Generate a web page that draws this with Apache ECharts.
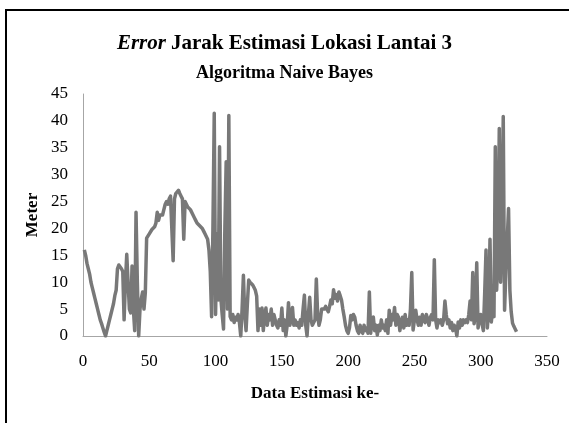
<!DOCTYPE html>
<html>
<head>
<meta charset="utf-8">
<script src="https://cdn.jsdelivr.net/npm/echarts@6/dist/echarts.min.js"></script>
<style>
html,body{margin:0;padding:0;background:#fff;}
#chart{width:569px;height:423px;}
</style>
</head>
<body>
<div id="chart"></div>
<script>
// Error (meter) for each estimation index 1..327
var errors = [
  16, 15, 13.5, 12.5, 11.5, 10, 9, 8, 7, 6,
  5, 4, 3, 2.3, 1.5, 0.7, 0, 1, 2, 3,
  4, 5, 6, 7.5, 8.5, 12.5, 13.2, 13, 12.5, 12,
  3, 10, 15.2, 10, 5, 4.3, 13, 5, 1, 23,
  10, 0, 5, 7, 8.2, 5, 8, 18.2, 18.5, 19,
  19.3, 19.8, 20, 20.3, 21, 23, 21.5, 22.5, 22.8, 22.5,
  23.5, 24.5, 25, 24.5, 25.5, 26, 26.2, 14, 25.5, 26.5,
  26.8, 27.1, 26.5, 26, 25.5, 18, 25, 24.5, 24, 24.2,
  23.5, 23.8, 22.5, 22, 21.5, 21, 21.2, 20.5, 20.8, 20,
  19.5, 19, 18.5, 18, 16, 12, 3.6, 20, 41.4, 4,
  19, 6.7, 35.2, 7, 4, 1.3, 20, 32.4, 5, 41,
  3.6, 3, 4, 2.5, 3.5, 3, 4, 2.5, 0, 5,
  11.3, 4, 1, 6, 10.4, 10, 10, 9.5, 9, 8.5,
  7.4, 1, 5, 2, 5.2, 1, 4, 5.2, 2, 4,
  3, 5, 2, 4, 3, 2, 1.5, 3, 2, 5.2,
  1, 3, 0, 2, 6.2, 2, 3, 5.3, 2, 3,
  2, 2.5, 1.5, 3, 2, 5, 7.6, 2, 0, 4,
  7.2, 3, 2, 2.5, 3, 10.6, 4, 2, 3, 5,
  5.2, 5, 5.5, 5.2, 4.5, 5.5, 6.7, 6, 8.6, 7,
  7.7, 6.5, 8.2, 7.5, 6.7, 5, 3.6, 2, 1, 0.5,
  1.5, 3.8, 3, 4, 3.5, 2, 1, 0.5, 2, 1,
  0.5, 2, 1, 1.5, 0.5, 8.2, 0.5, 3, 3.5, 1,
  2, 0.2, 2, 1, 3, 1.5, 2, 1, 3, 0.5,
  4.8, 2, 4, 3, 5.3, 2, 4, 3.5, 1, 2.5,
  3.5, 1.5, 4, 2, 3, 2, 5, 11.8, 1.1, 3,
  4.8, 3, 2, 3.5, 2, 4, 3, 2.5, 4, 3,
  2, 3.5, 4, 3, 14.2, 3, 1.5, 3, 2.5, 3,
  2, 3, 6.5, 4, 2.3, 3, 1.5, 2.5, 1, 2,
  1.5, 0, 2.6, 1.5, 3, 2, 3, 2.5, 3, 2.5,
  4, 6.5, 3, 11.8, 2.3, 4, 13.6, 1.5, 3, 4,
  2.3, 1, 8, 16, 1.5, 5, 18, 2.6, 5, 3.6,
  35.2, 8.5, 14.7, 38.6, 10, 20, 40.8, 4.8, 12, 18,
  23.7, 8.5, 4.5, 2.4, 1.8, 1.3, 0.8
];
var xTicks = [0, 50, 100, 150, 200, 250, 300, 350];
var yTicks = [0, 5, 10, 15, 20, 25, 30, 35, 40, 45];

var seriesData = errors.map(function (v, i) { return [i + 1, v]; });

var chart = echarts.init(document.getElementById('chart'), null, {renderer: 'canvas'});
var serif = 'Liberation Serif';
chart.setOption({
  backgroundColor: '#ffffff',
  animation: false,
  title: [{
    text: '{i|Error} {b|Jarak Estimasi Lokasi Lantai 3}',
    left: 'center',
    top: 28,
    textStyle: {
      rich: {
        i: {fontFamily: serif, fontStyle: 'italic', fontSize: 21, color: '#000'},
        b: {fontFamily: serif, fontWeight: 'bold', fontSize: 21, color: '#000'}
      }
    }
  }, {
    text: 'Algoritma Naive Bayes',
    left: 'center',
    top: 59,
    textStyle: {fontFamily: serif, fontWeight: 'bold', fontSize: 18, color: '#000'}
  }],
  graphic: [{
    type: 'rect',
    shape: {x: 6, y: 10, width: 620, height: 500},
    style: {fill: 'none', stroke: '#000', lineWidth: 2},
    silent: true
  }],
  grid: {left: 83, top: 94, right: 22, bottom: 87, containLabel: false},
  xAxis: {
    type: 'value',
    min: xTicks[0],
    max: xTicks[xTicks.length - 1],
    interval: xTicks[1] - xTicks[0],
    name: 'Data Estimasi ke-',
    nameLocation: 'middle',
    nameGap: 49,
    nameTextStyle: {fontFamily: serif, fontWeight: 'bold', fontSize: 17, color: '#000'},
    axisLine: {show: true, lineStyle: {color: '#a6a6a6', width: 1}},
    axisTick: {show: false},
    splitLine: {show: false},
    axisLabel: {fontFamily: serif, fontSize: 17, color: '#000', margin: 17}
  },
  yAxis: {
    type: 'value',
    min: yTicks[0],
    max: yTicks[yTicks.length - 1],
    interval: yTicks[1] - yTicks[0],
    name: 'Meter',
    nameLocation: 'middle',
    nameGap: 42,
    nameMoveOverlap: false,
    nameRotate: 90,
    nameTextStyle: {fontFamily: serif, fontWeight: 'bold', fontSize: 17, color: '#000'},
    axisLine: {show: true, lineStyle: {color: '#a6a6a6', width: 1}},
    axisTick: {show: false},
    splitLine: {show: false},
    axisLabel: {fontFamily: serif, fontSize: 17, color: '#000', margin: 15}
  },
  series: [{
    type: 'line',
    data: seriesData,
    showSymbol: false,
    symbol: 'none',
    lineStyle: {color: '#787878', width: 3.5, join: 'round'},
    z: 3
  }]
});
</script>
</body>
</html>
